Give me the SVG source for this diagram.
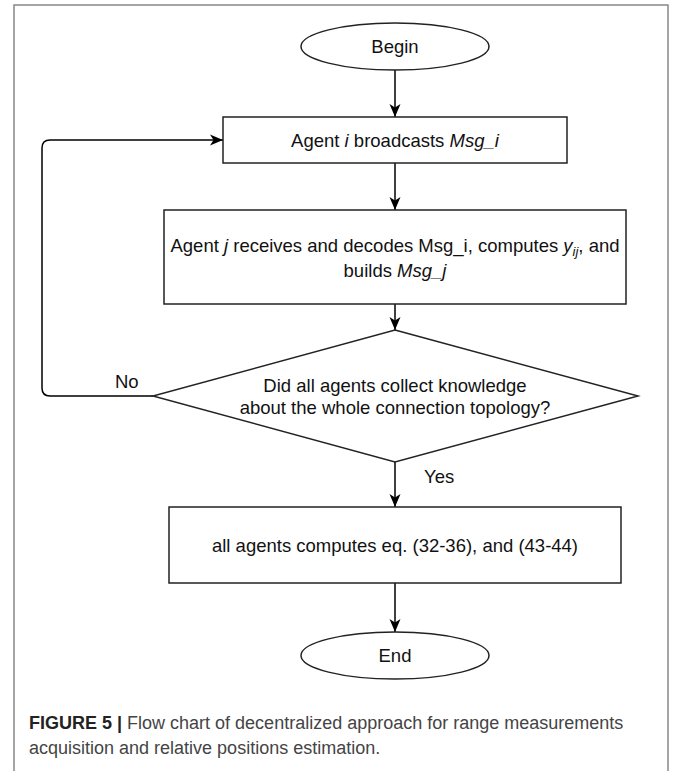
<svg xmlns="http://www.w3.org/2000/svg" width="674" height="771" viewBox="0 0 674 771">
<defs>
<style>
.shape{fill:#fff;stroke:#222;stroke-width:1.5}
.t{font-family:"Liberation Sans",Arial,sans-serif;font-size:18.5px;fill:#111;text-anchor:middle}
.lbl{font-family:"Liberation Sans",Arial,sans-serif;font-size:18.5px;fill:#111}
.edge{fill:none;stroke:#000;stroke-width:1.5}
.cap{font-family:"Liberation Sans",Arial,sans-serif;font-size:18px;fill:#444}
</style>
<marker id="arr" markerUnits="userSpaceOnUse" markerWidth="16" markerHeight="14" viewBox="-14 -7 16 14" refX="0" refY="0" orient="auto">
<path d="M0,0 L-13,-5.5 L-9.5,0 L-13,5.5 Z" fill="#000"/>
</marker>
</defs>
<rect width="674" height="771" fill="#fff"/>
<path d="M14,775 L14,5 L668,5 L668,775" fill="none" stroke="#888" stroke-width="1.5"/>

<g id="connectors">
<line class="edge" x1="395" y1="70" x2="395" y2="117" marker-end="url(#arr)"/>
<line class="edge" x1="395" y1="163" x2="395" y2="210" marker-end="url(#arr)"/>
<line class="edge" x1="395" y1="304" x2="395" y2="330" marker-end="url(#arr)"/>
<line class="edge" x1="395" y1="462" x2="395" y2="507" marker-end="url(#arr)"/>
<line class="edge" x1="395" y1="583" x2="395" y2="632" marker-end="url(#arr)"/>
<path class="edge" d="M153,396 L50,396 Q42,396 42,388 L42,148 Q42,140 50,140 L223,140" marker-end="url(#arr)"/>
<text class="lbl" x="115" y="388">No</text>
<text class="lbl" x="424" y="483">Yes</text>
</g>

<g id="begin">
<ellipse class="shape" cx="395" cy="46.5" rx="94" ry="23.5"/>
<text class="t" x="395" y="53">Begin</text>
</g>

<g id="broadcast">
<rect class="shape" x="223" y="117" width="344" height="46"/>
<text class="t" x="395" y="146.5">Agent <tspan font-style="italic">i</tspan> broadcasts <tspan font-style="italic">Msg_i</tspan></text>
</g>

<g id="receive">
<rect class="shape" x="164" y="210" width="462" height="94"/>
<text class="t" x="395" y="251.5">Agent <tspan font-style="italic">j</tspan> receives and decodes Msg_i, computes <tspan font-style="italic">y</tspan><tspan font-style="italic" font-size="13" dy="4">ij</tspan><tspan dy="-4">, and</tspan></text>
<text class="t" x="395" y="276.5">builds <tspan font-style="italic">Msg_j</tspan></text>
</g>

<g id="decision">
<polygon class="shape" points="395,330 638,396 395,462 153,396"/>
<text class="t" x="395" y="392">Did all agents collect knowledge</text>
<text class="t" x="395" y="414">about the whole connection topology?</text>
</g>

<g id="compute">
<rect class="shape" x="169" y="507" width="452" height="76"/>
<text class="t" x="395" y="552">all agents computes eq. (32-36), and (43-44)</text>
</g>

<g id="end">
<ellipse class="shape" cx="395" cy="655.5" rx="94" ry="23.5"/>
<text class="t" x="395" y="662">End</text>
</g>

<g id="caption">
<text class="cap" x="29" y="729"><tspan font-weight="bold" fill="#222">FIGURE 5 |</tspan> Flow chart of decentralized approach for range measurements</text>
<text class="cap" x="29" y="754">acquisition and relative positions estimation.</text>
</g>
</svg>
